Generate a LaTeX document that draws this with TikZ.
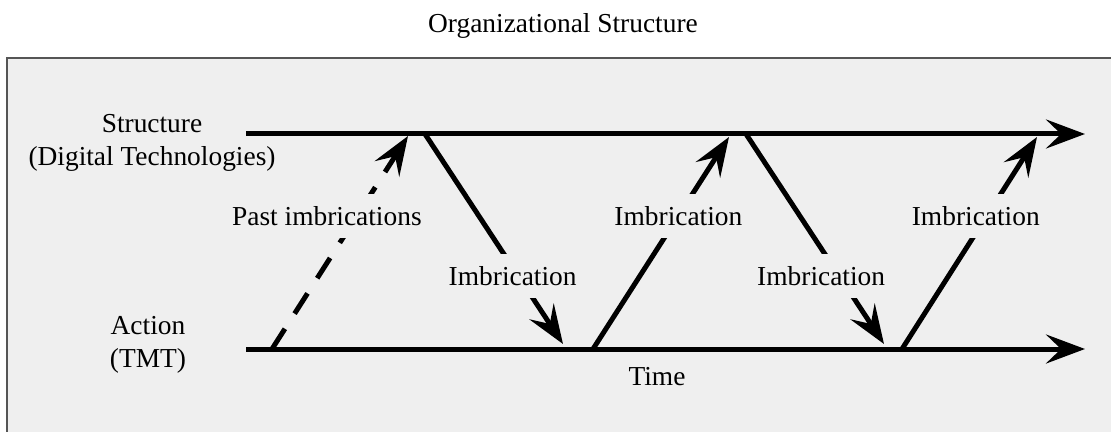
\documentclass[tikz,border=0pt]{standalone}
\usepackage{fontspec}
\setmainfont{Liberation Serif}
\usepackage{tikz}
\usetikzlibrary{arrows.meta}

\definecolor{panel}{HTML}{EFEFEF}
\definecolor{frame}{HTML}{555555}

\begin{document}
\begin{tikzpicture}
        % Levels of the two time lines
        \pgfmathsetmacro{\structy}{134}
        \pgfmathsetmacro{\actiony}{349}

        % One unit is one pixel of the figure, y runs downwards
        \tikzset{
            x={(0.02cm, 0)}, y={(0cm, -0.02cm)},
            tip/.style={-{Stealth[length=0.78cm, width=0.58cm, inset=0.3cm]}},
            lbl/.style={font=\fontsize{15.6}{18.8}\selectfont, inner sep=0pt},
            gap/.style={lbl, fill=panel, inner xsep=0.2cm, inner ysep=0.25cm},
        }

        \useasboundingbox (0, 0) rectangle (1111, 432);

        % Grey panel, runs off the right and bottom edge
        \draw[frame, fill=panel, line width=0.04cm] (7, 58) rectangle (1125, 445);

        \node[lbl, anchor=base] (title) at (563, 33) {Organizational Structure};

        \coordinate (S0) at (246, \structy);
        \coordinate (S1) at (1085, \structy);
        \coordinate (A0) at (246, \actiony);
        \coordinate (A1) at (1085, \actiony);

        % Ends of the imbrication arrows
        \coordinate (P0) at (272, \actiony);
        \coordinate (P1) at (408, 136);
        \coordinate (D1a) at (425, \structy);
        \coordinate (D1b) at (563, 344);
        \coordinate (U1a) at (593, \actiony);
        \coordinate (U1b) at (729, 137);
        \coordinate (D2a) at (746, \structy);
        \coordinate (D2b) at (884, 344);
        \coordinate (U2a) at (902, \actiony);
        \coordinate (U2b) at (1037, 137);

        \node[lbl, align=center] (struct) at (152, 143)
        {Structure\\(Digital Technologies)};
        \node[lbl, align=center] (action) at (148, 345) {Action\\(TMT)};
        \node[lbl, anchor=base] (time) at (657, 385) {Time};

        \begin{scope}[line width=0.1cm]
            \draw[tip] (S0) -- (S1);
            \draw[tip] (A0) -- (A1);

            \draw[tip, dash pattern=on 0.48cm off 0.36cm] (P0) --
            node[gap, pos=0.624, xshift=-0.6cm] (past) {Past imbrications} (P1);

            \draw[tip] (D1a) -- node[gap, pos=0.675, xshift=-0.11cm] (imb1)
            {Imbrication} (D1b);
            \draw[tip] (U1a) -- node[gap, pos=0.628] (imb2) {Imbrication} (U1b);
            \draw[tip] (D2a) -- node[gap, pos=0.675, xshift=-0.36cm] (imb3)
            {Imbrication} (D2b);
            \draw[tip] (U2a) -- node[gap, pos=0.628, xshift=-0.22cm] (imb4)
            {Imbrication} (U2b);
        \end{scope}

        \end{tikzpicture}
\end{document}
